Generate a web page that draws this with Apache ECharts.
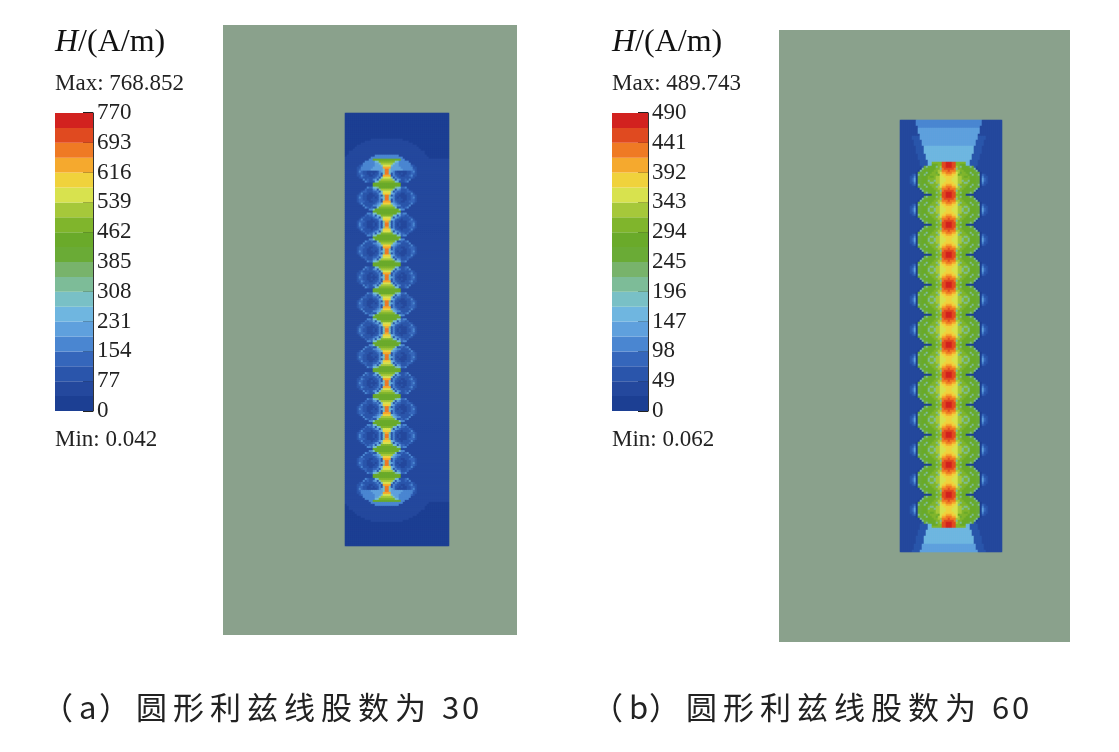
<!DOCTYPE html>
<html>
<head>
<meta charset="utf-8">
<script src="https://cdn.jsdelivr.net/npm/echarts@6/dist/echarts.min.js"></script>
<style>html,body{margin:0;background:#fff}#main{width:1119px;height:752px}</style>
</head>
<body>
<div id="main"></div>
<script>
// 色标（由低到高 20 段）
var bandColors = ['#1c3f93', '#24489d', '#2a55ab', '#3566bb', '#4a86d1', '#5fa0dd', '#6fb6e0', '#79c0c6', '#7dbc98', '#78b36b',
    '#6aab36', '#6aaa2a', '#80b52c', '#a6c83a', '#d8e24e', '#f0d23c', '#f5a92e', '#ef7a24', '#e04a20', '#d2221f'];
var maxA = 770, maxB = 490;
var ticksA = [0, 77, 154, 231, 308, 385, 462, 539, 616, 693, 770];
var ticksB = [0, 49, 98, 147, 196, 245, 294, 343, 392, 441, 490];
var textA = { max: 'Max: 768.852', min: 'Min: 0.042', caption: ['（', 'a', '）', '圆', '形', '利', '兹', '线', '股', '数', '为', ' ', '3', '0'] };
var textB = { max: 'Max: 489.743', min: 'Min: 0.062', caption: ['（', 'b', '）', '圆', '形', '利', '兹', '线', '股', '数', '为', ' ', '6', '0'] };
// 股线位置（局部像素坐标）
var rowsA = [59, 85.5, 112, 138.5, 165, 191.5, 218, 244.5, 271, 297.5, 324, 350.5, 377];
var rowsB = [60, 90, 120, 150, 180, 210, 240, 270, 300, 330, 360, 390];
var cs = 2; // 网格单元
var W_A = 104, H_A = 433, W_B = 102, H_B = 432;

function nearest(x, y, cols, rows) {
    var best = 1e9;
    cols.forEach(function (cx) {
        rows.forEach(function (cy) {
            var d = Math.hypot(x - cx, y - cy);
            if (d < best) best = d;
        });
    });
    return best;
}

function fieldA(x, y) {
    var xc = 42, s = 14.5, R = 12, p = 26.5;
    var y0 = rowsA[0], y1 = rowsA[rowsA.length - 1];
    var dx = Math.abs(x - xc);
    var v = 25;
    var r = nearest(x, y, [xc - s, xc + s], rowsA);
    if (y >= y0 - R && y <= y1 + R) {
        if (r < R) {
            var f = r / R;
            v = 50 + 120 * f * f + (dx < s ? 150 * f * f : 0);
            if (Math.abs((f * 3) % 1 - 0.5) < 0.12) v = 90;
        } else if (dx < s) {
            var ph = ((y - y0) / p) % 1;
            v = 430 + 250 * Math.pow(Math.cos(Math.PI * ph), 2);
        } else {
            var ph2 = ((y - y0) / p) % 1;
            v = 40 + 140 * Math.pow(Math.cos(Math.PI * ph2), 4) * Math.exp(-(dx - s - R) / 3);
        }
    }
    var yy = y < y0 ? y0 - y : (y > y1 ? y - y1 : -1);
    if (yy >= 0) {
        var d = Math.hypot(dx / 1.3, yy + 2);
        var cap = 420 * Math.exp(-d / 8);
        if (d < 20) cap = Math.max(cap, 230 - d * 3);
        else if (d < 36) cap = Math.max(cap, 75);
        v = Math.max(v, cap);
    }
    return v;
}

function fieldB(x, y) {
    var xc = 49, s = 17, R = 17, p = 30;
    var y0 = rowsB[0], y1 = rowsB[rowsB.length - 1];
    var dx = Math.abs(x - xc);
    var v = 25;
    var r = nearest(x, y, [xc - s, xc + s], rowsB);
    if (y >= y0 - R && y <= y1 + R) {
        var ph = ((y - y0) / p) % 1;
        if (dx < 8) {
            v = 380 + 100 * Math.pow(Math.sin(Math.PI * ph), 2) - dx * 4;
        } else if (r < R) {
            var f = r / R;
            v = 250 + 50 * (1 - f) + 80 * Math.exp(-(dx - 8) / 5);
            if (Math.abs((f * 3) % 1 - 0.5) < 0.08) v = 200;
            if (f > 0.88 && dx > s) v = 20;
        } else if (dx < s) {
            v = 300;
        } else {
            v = 30 + 110 * Math.pow(Math.cos(Math.PI * ph), 6) * Math.exp(-(dx - s - R) / 3);
        }
    }
    var yy = y < y0 ? y0 - y : (y > y1 ? y - y1 : -1);
    if (yy >= 0) {
        var wdt = 16 + yy * 0.3;
        var cap = 0;
        if (dx < wdt + 8 && yy < 45) cap = 60;
        if (dx < wdt) cap = 190 - yy * 1.3;
        if (yy < 12 && dx < 22) cap = Math.max(cap, 320 - yy * 10);
        v = Math.max(v, cap);
    }
    return v;
}

function buildField(fn, w, h) {
    var nx = Math.round(w / cs), ny = Math.round(h / cs), data = [];
    for (var i = 0; i < nx; i++) for (var j = 0; j < ny; j++) {
        data.push([i, j, fn(i * cs + 1, j * cs + 1)]);
    }
    return { nx: nx, ny: ny, data: data };
}
var fa = buildField(fieldA, W_A, H_A);
var fb = buildField(fieldB, W_B, H_B);

function range(n) { var a = []; for (var i = 0; i < n; i++) a.push(i); return a; }
function pieces(max) {
    var st = max / 20;
    return bandColors.map(function (c, i) { return { gte: i * st, lt: (i + 1) * st + (i === 19 ? 1e6 : 0), color: c }; });
}

var serif = 'Liberation Serif';
var chart = echarts.init(document.getElementById('main'));
var grids = [
    { left: 345, top: 113, width: W_A, height: H_A },
    { left: 900, top: 120, width: W_B, height: H_B },
    { left: 55, top: 113, width: 38, height: 298 },
    { left: 612, top: 113, width: 36, height: 298 }
];
var xAxes = [], yAxes = [];
[fa, fb].forEach(function (f, k) {
    xAxes.push({ type: 'category', gridIndex: k, data: range(f.nx), show: false });
    yAxes.push({ type: 'category', gridIndex: k, data: range(f.ny), inverse: true, show: false });
});
[[maxA, ticksA], [maxB, ticksB]].forEach(function (m, k) {
    xAxes.push({ type: 'category', gridIndex: k + 2, data: ['c'], show: false });
    yAxes.push({
        type: 'value', gridIndex: k + 2, min: 0, max: m[0], interval: m[0] / 10, position: 'right',
        axisLine: { show: true, lineStyle: { color: '#333', width: 1 } },
        axisTick: { show: true, inside: true, length: 10, lineStyle: { color: '#222', width: 2 } },
        splitLine: { show: false },
        axisLabel: { color: '#222', fontFamily: serif, fontSize: 23, margin: 4, showMinLabel: true, showMaxLabel: true,
            formatter: function (v) { return Math.round(v); } }
    });
});
var series = [
    { type: 'heatmap', xAxisIndex: 0, yAxisIndex: 0, data: fa.data, progressive: 0, animation: false },
    { type: 'heatmap', xAxisIndex: 1, yAxisIndex: 1, data: fb.data, progressive: 0, animation: false }
];
[maxA, maxB].forEach(function (m, k) {
    bandColors.forEach(function (c) {
        series.push({ type: 'bar', xAxisIndex: k + 2, yAxisIndex: k + 2, stack: 'cb' + k, barWidth: '100%',
            data: [m / 20], itemStyle: { color: c }, silent: true, animation: false, z: 1 });
    });
});

function labels(t, x) {
    return [
        { type: 'text', left: x, top: 27, style: { rich: { i: { fontStyle: 'italic', fontFamily: serif, fontSize: 32, fill: '#111' }, n: { fontFamily: serif, fontSize: 32, fill: '#111' } }, text: '{i|H}{n|/(A/m)}' } },
        { type: 'text', left: x, top: 72, style: { text: t.max, fontFamily: serif, fontSize: 23, fill: '#222' } },
        { type: 'text', left: x, top: 428, style: { text: t.min, fontFamily: serif, fontSize: 23, fill: '#222' } }
    ];
}
function caption(chars, x0) {
    var out = [], x = x0;
    chars.forEach(function (c) {
        out.push({ type: 'text', left: x, top: 692, style: { text: c, font: '31px "Noto Sans CJK SC"', fill: '#222' } });
        x += /[0-9a-z ]/.test(c) ? (c === ' ' ? 10 : 20) : 37;
    });
    return out;
}
var graphic = [
    { type: 'rect', shape: { x: 223, y: 25, width: 294, height: 610 }, style: { fill: '#8aa18c' }, z: -10 },
    { type: 'rect', shape: { x: 779, y: 30, width: 291, height: 612 }, style: { fill: '#8aa18c' }, z: -10 }
].concat(labels(textA, 55), labels(textB, 612), caption(textA.caption, 42), caption(textB.caption, 592));

chart.setOption({
    animation: false,
    grid: grids,
    xAxis: xAxes,
    yAxis: yAxes,
    visualMap: [
        { type: 'piecewise', show: false, seriesIndex: 0, pieces: pieces(maxA) },
        { type: 'piecewise', show: false, seriesIndex: 1, pieces: pieces(maxB) }
    ],
    series: series,
    graphic: graphic
});
</script>
</body>
</html>
